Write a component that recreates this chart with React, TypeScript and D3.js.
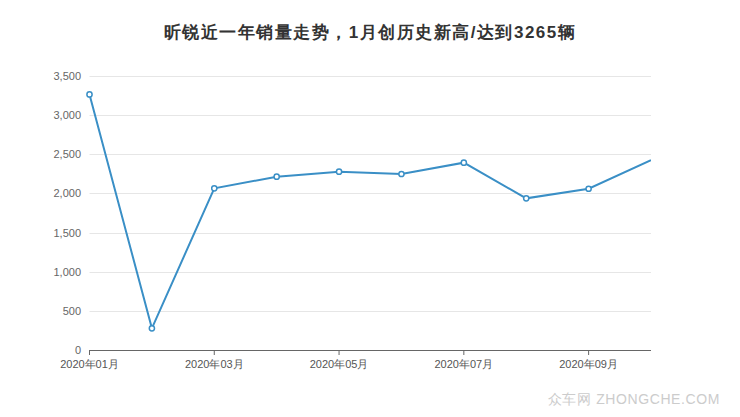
import React from "react";
import * as d3 from "d3";

const months = ["2020年01月","2020年02月","2020年03月","2020年04月","2020年05月","2020年06月","2020年07月","2020年08月","2020年09月","2020年10月"];
const sales = [3265, 277, 2065, 2214, 2278, 2248, 2393, 1937, 2060, 2425];
const yTicks = [0, 500, 1000, 1500, 2000, 2500, 3000, 3500];
const xTickLabels = ["2020年01月","2020年03月","2020年05月","2020年07月","2020年09月"];
const title = "昕锐近一年销量走势，1月创历史新高/达到3265辆";

const W = 740, H = 417;
const left = 89.5, right = 651, top = 76, bottom = 350;

export default function App() {
  const x = d3.scalePoint<string>().domain(months).range([left, right]);
  const y = d3.scaleLinear().domain([0, 3500]).range([bottom, top]);
  const line = d3.line<number>().x((_, i) => x(months[i])!).y(d => y(d));
  const fmt = d3.format(",");
  const font = "'Liberation Sans', Arial, sans-serif";
  return (
    <svg width={W} height={H} style={{ position: "absolute", left: 0, top: 0, background: "#fff" }}>
      <defs>
        <clipPath id="plot">
          <rect x={left - 6} y={top - 10} width={right - left + 6} height={bottom - top + 20} />
        </clipPath>
      </defs>
      <text x={370} y={38} textAnchor="middle" fontFamily={font} fontSize={17} fontWeight="bold" fill="#333" letterSpacing={1.5}>{title}</text>
      {yTicks.map(t => (
        <g key={t}>
          {t > 0 && <line x1={left} x2={right} y1={Math.round(y(t)) + 0.5} y2={Math.round(y(t)) + 0.5} stroke="#e6e6e6" strokeWidth={1} />}
          <text x={81} y={y(t) + 4} textAnchor="end" fontFamily={font} fontSize={11} fill="#666">{fmt(t)}</text>
        </g>
      ))}
      <line x1={left} x2={right} y1={bottom + 0.5} y2={bottom + 0.5} stroke="#666" strokeWidth={1} />
      {xTickLabels.map(m => (
        <g key={m}>
          <line x1={x(m)!} x2={x(m)!} y1={bottom} y2={bottom + 5} stroke="#666" strokeWidth={1} />
          <text x={x(m)!} y={bottom + 18} textAnchor="middle" fontFamily={font} fontSize={11} fill="#555">{m}</text>
        </g>
      ))}
      <g clipPath="url(#plot)">
        <path d={line(sales)!} fill="none" stroke="#3a8fc6" strokeWidth={2} />
        {sales.slice(0, -1).map((v, i) => (
          <circle key={i} cx={x(months[i])!} cy={y(v)} r={2.6} fill="#fff" stroke="#3a8fc6" strokeWidth={1.5} />
        ))}
      </g>
      <text x={720} y={404} textAnchor="end" fontFamily={font} fontSize={14} fill="#ccc" letterSpacing={0.6}>众车网 ZHONGCHE.COM</text>
    </svg>
  );
}
